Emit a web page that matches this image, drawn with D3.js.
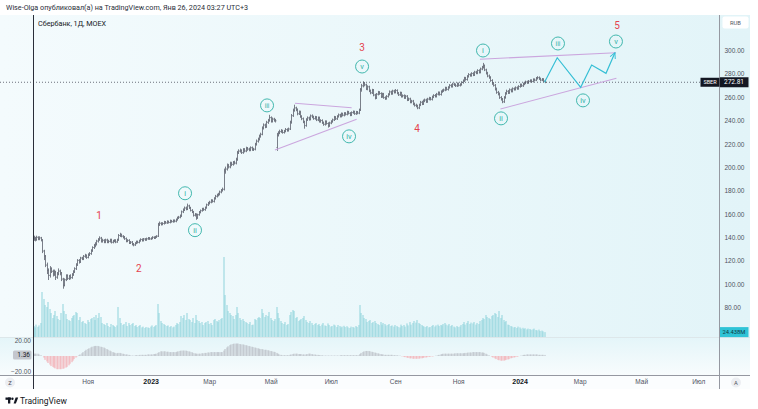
<!DOCTYPE html>
<html lang="ru">
<head>
<meta charset="UTF-8">
<title>Сбербанк, 1Д, MOEX</title>
<script src="https://d3js.org/d3.v7.min.js"></script>
<style>
  body { margin: 0; background: #fff; }
  svg { display: block; font-family: Roboto, "Noto Sans", sans-serif; }
</style>
</head>
<body>
<svg width="758" height="409"></svg>
<script>
// ---- data ----
const startDate = "2022-09-09";
const holidays = ["2022-11-04","2023-01-02","2023-02-23","2023-03-08","2023-05-01","2023-05-08","2023-05-09",
  "2023-06-12","2023-11-06","2024-01-01","2024-01-02","2024-02-23","2024-03-08","2024-05-01","2024-05-09",
  "2024-05-10","2024-06-12"];
const monthNames = ["Янв","Фев","Мар","Апр","Май","Июн","Июл","Авг","Сен","Окт","Ноя","Дек"];

const firstOpen = 139.0;
const gapOpens = {166: 217}; // dividend gap bar

const closes = [
  139.5,138.2,140.1,138.8,139.6,137.9,128.4,124.0,116.3,111.8,
  107.5,113.2,111.0,108.6,110.4,105.9,108.7,111.2,109.5,104.3,
  99.0,103.8,107.2,104.9,106.8,105.6,108.1,110.5,113.2,116.4,
  120.3,119.1,122.4,121.7,123.8,124.2,122.9,125.3,126.1,
  128.7,131.4,133.0,134.2,136.8,138.1,139.4,136.9,137.5,136.2,
  137.8,135.9,136.6,137.9,135.8,136.9,137.3,136.1,137.8,
  141.6,142.3,141.0,140.2,138.9,136.8,137.4,135.2,135.9,134.1,
  133.6,135.0,136.3,135.7,137.1,138.2,137.3,138.6,137.9,138.8,
  139.4,138.7,139.2,140.1,139.5,140.4,141.0,150.8,152.1,151.3,
  151.9,153.1,152.4,153.6,152.8,154.1,153.5,154.4,153.9,
  155.2,156.8,157.3,158.4,161.9,163.5,165.2,164.1,167.0,165.3,
  163.1,161.8,158.9,159.6,156.8,159.4,161.5,162.9,164.3,163.8,
  165.4,167.9,169.2,170.1,171.6,170.8,173.4,175.2,176.1,
  177.0,178.9,180.3,181.2,196.8,198.5,201.2,200.4,203.1,202.5,
  204.2,203.6,206.8,212.5,213.9,214.3,212.6,215.1,214.0,216.2,
  215.6,214.9,216.8,215.2,215.5,219.8,222.4,224.1,226.7,
  228.3,233.6,236.2,234.8,238.5,240.1,242.6,239.4,241.3,240.2,
  239.8,227.5,229.4,230.6,231.2,229.8,230.9,232.4,231.5,232.8,
  238.6,244.2,248.7,250.9,249.3,245.8,247.2,243.4,241.6,
  238.9,235.7,240.8,242.3,241.1,244.0,243.2,241.7,242.9,240.6,
  242.4,239.3,240.1,238.2,236.8,239.1,237.5,235.6,237.9,239.2,
  240.6,242.8,241.5,243.6,244.9,243.7,245.8,244.6,246.1,
  245.4,247.3,246.2,244.9,246.8,247.5,245.9,247.2,246.4,249.1,
  266.5,269.8,271.9,270.6,267.2,268.9,265.4,263.8,266.1,261.9,
  259.4,262.6,264.1,263.2,260.5,262.8,259.7,258.9,260.7,
  262.4,264.6,263.1,265.3,264.2,265.8,263.5,262.1,263.7,260.8,
  261.3,259.6,260.9,257.8,258.6,255.9,256.7,254.2,253.1,252.6,
  250.9,253.4,255.7,254.3,256.9,257.6,256.2,258.4,259.1,
  258.2,260.3,261.5,260.8,262.6,263.9,262.4,264.8,265.6,266.2,
  267.9,266.7,268.4,270.1,269.3,271.2,270.6,269.8,271.5,270.2,
  270.9,272.6,274.1,276.3,275.2,277.8,279.4,278.6,280.3,
  279.1,281.5,280.7,282.9,281.3,284.2,285.6,287.1,283.4,280.6,
  278.2,276.9,274.3,271.8,270.2,266.9,264.1,262.8,259.7,258.3,
  256.1,259.8,263.2,265.1,263.9,266.4,265.2,267.3,266.8,
  268.1,267.4,269.2,270.6,269.8,271.3,272.2,273.1,272.4,273.6,
  274.2,273.5,275.1,274.6,276.2,276.8,275.9,274.7,275.3,273.9,272.81
];
const highs = [
  141,140,141,140.5,140.5,140,138,129,124.5,118,
  113,115,114,112,112,111,110,113,112,110,
  105,104.5,108,108,107.5,108,109,111.5,114,117.5,
  121,121,123,123,124.5,125.5,125,126,127,
  129.5,132,134,135.5,137.5,139,140.5,140,138.5,138,
  138.5,138.5,137.5,138.5,138.5,137.5,138,138,138.5,
  142.5,143.5,142.8,141.5,140.8,139.5,138,138,136.5,136.5,
  134.8,135.5,136.8,136.8,137.6,138.8,138.7,139.1,139,139.4,
  139.9,139.8,139.7,140.6,140.5,140.9,141.5,152,153.2,152.6,
  152.6,153.8,153.6,154.2,154,154.8,154.6,155,155,
  155.8,157.4,158,159.2,162.6,164.4,166,166,168.5,167.6,
  165.8,163.8,162.3,160.5,160.2,159.9,162.2,163.5,164.9,165,
  166,168.5,170,170.9,172.3,172.2,174,176,177,
  177.8,179.6,181,182.2,198.5,200.2,202.8,202.5,204.4,204.3,
  205,205.2,207.8,213.6,215,215.6,215,216,216,217.2,
  217,216.4,217.5,217.4,216.3,220.6,223.4,225,227.6,
  229.2,234.6,237.2,237,239.4,241,244.5,243.2,242.2,242,
  241,229,230.5,231.8,232.3,231.8,231.6,233.2,233,233.6,
  239.5,245.2,249.8,253.2,251.5,250,248.2,248,244.2,
  242.2,239.5,241.6,243.2,243,244.8,244.9,243.8,243.6,243.4,
  243.1,243,240.8,240.7,238.8,239.8,239.7,238.1,238.6,239.9,
  241.3,243.6,243.4,244.2,245.6,245.4,246.5,246.3,246.8,
  246.8,248,247.9,246.8,247.4,248.2,248,247.9,247.8,249.8,
  267.5,271,273.2,272.6,271.2,269.8,269.4,266.2,266.8,266.6,
  262.5,263.2,265,264.8,263.8,263.4,263.3,260.4,261.4,
  263,265.4,265.2,266,265.9,266.6,266.4,264,264.4,264.2,
  262,262,261.6,261.4,259.3,259.2,257.4,257.3,255,254,
  253.2,254,256.4,256.5,257.6,258.4,258.3,259.1,259.9,
  259.8,261,262.2,262.3,263.3,264.6,264.5,265.5,266.4,267,
  268.6,268.5,269,270.8,270.8,271.9,271.9,271.3,272.2,272.1,
  271.6,273.3,274.8,277.1,277,278.5,280.2,280,281,
  281,282.2,282.2,283.6,283.5,284.9,286.4,289,287.6,284,
  281.3,279,277.6,275,272.6,270.9,267.8,265,263.6,260.5,
  258.9,260.5,264,266,265.7,267.1,267,268,268,
  268.8,268.8,269.9,271.3,271.2,272,272.9,273.8,273.7,274.3,
  274.9,274.9,275.8,275.7,276.9,277.6,277.4,276.4,276,275.9,274.5
];
const lows = [
  137.5,137,137.5,138,138,137,127,121,115,109,
  104,106,110,107,107.5,104,105,108,108,103,
  96.5,98.5,103,104,104,104.5,105,107.5,110,112.5,
  116,118,118.5,121,121,123,122,122.5,124.5,
  125.5,128,130.5,132,133.5,136,137.5,136,136,135.5,
  135.5,135.5,135.5,136,135.2,135.3,136.3,135.5,135.8,
  137.5,140.8,140.5,139.5,138.3,136.2,136.3,134.8,134.8,133.6,
  132.8,133.2,134.6,135.2,135.3,136.8,136.9,137,137.5,137.6,
  138.4,138.3,138.3,138.8,139.1,139.2,140,140.8,150.3,150.6,
  150.8,151.4,152,152,152.3,152.4,153,153,153.3,
  153.4,154.8,156.2,156.8,158,161.2,163,163.6,163.8,164.8,
  162.6,161.2,158.2,158.3,155.5,156.3,159,161,162.5,163.1,
  163.2,165,167.3,168.6,169.6,170.2,170.3,172.8,174.6,
  175.5,176.4,178.2,179.6,180.6,195,197.6,199.4,199.6,201.4,
  201.8,202.8,202.9,206,211.8,213,211.8,212,213.2,213.4,
  214.6,214.1,214.2,214.6,214.4,214.9,219,221.6,223.4,
  225.8,227.8,232.8,233.9,234.2,237.6,239.5,238.7,238.8,239.5,
  238.8,214.5,226.8,228.8,229.9,229.2,229.3,230.4,230.9,231,
  232.4,237.8,243.6,248,248.5,245,245.2,242.8,240.8,
  238.2,233.5,235.2,240.2,240.4,240.6,242.5,241.1,241.2,240,
  240,238.7,238.6,237.6,236,236.1,236.9,234.4,235,237.3,
  238.6,240.1,240.9,241,243,243.1,243.2,244,244,
  244.8,244.9,245.6,244.2,244.3,246.2,245.3,245.3,245.8,245.9,
  248.6,265.2,268.8,269.8,266.5,266.4,264.8,262.9,263.2,261.2,
  258.6,258.9,262,262.5,259.8,259.9,259.1,258.1,258.3,
  260.1,261.9,262.5,262.6,263.6,263.7,262.9,261.5,261.6,260.1,
  260.2,259,259,257.1,257.2,255.2,255.2,253.6,252.4,251.8,
  250.2,250.3,252.8,253.7,253.8,256.2,255.6,255.7,257.8,
  257.6,257.6,259.7,260.2,260.2,262,261.8,261.8,264.2,265,
  265.6,266.1,266.1,267.8,268.7,268.7,270,269.2,269.2,269.6,
  269.6,270.3,272,273.5,274.6,274.6,277.2,278,278,
  278.5,278.6,280.1,280.1,280.7,280.8,283.6,285,282.8,279.9,
  277.5,276.2,273.6,271,269.5,266.2,263.4,262,259,257.5,
  255.3,255.6,259.2,262.6,263.2,263.3,264.6,264.6,266.1,
  266.2,266.8,266.9,268.6,269.2,269.3,270.7,271.6,271.8,271.9,
  273,273,273,274,274.2,275.6,275.3,274.1,274.2,273.4,272.4
];
// volume, millions of shares
const volumes = [
  55,48,62,51,58,70,225,190,160,150,
  175,140,120,95,110,130,105,90,85,120,
  165,130,115,90,85,80,95,105,110,125,
  120,85,100,75,80,70,65,85,75,
  90,95,100,85,110,95,120,100,70,65,
  60,70,55,50,65,60,55,50,58,
  150,95,70,60,65,75,55,70,60,65,
  70,55,60,50,55,60,48,52,45,50,
  48,45,52,58,50,55,60,165,120,80,
  70,65,60,55,58,50,55,48,52,
  60,70,65,75,105,95,110,85,120,90,
  85,75,95,70,110,85,80,70,75,60,
  70,75,80,65,70,60,85,90,80,
  75,85,90,95,400,210,160,130,120,110,
  105,90,110,150,120,95,85,90,80,75,
  70,65,75,60,62,90,85,95,100,
  95,140,120,100,110,105,125,95,85,80,
  90,150,120,95,80,70,65,75,60,65,
  110,125,135,130,95,100,80,85,90,
  95,105,85,75,70,80,70,60,65,70,
  60,65,55,62,70,58,55,68,60,52,
  55,62,58,50,60,55,48,52,56,
  50,54,48,45,52,50,47,55,50,60,
  160,120,110,95,90,75,80,85,70,75,
  80,70,65,60,75,62,70,65,58,
  60,65,55,58,52,60,55,50,48,62,
  55,60,52,68,58,75,62,70,80,72,
  85,70,65,60,55,52,50,55,48,
  50,55,60,52,58,62,55,60,58,65,
  70,62,58,65,55,60,52,48,55,50,
  52,60,65,75,62,70,80,65,72,
  68,75,62,70,65,80,85,95,90,110,
  100,95,90,105,110,120,115,100,130,95,
  110,85,75,80,62,60,55,52,48,
  50,45,52,48,42,46,40,44,38,42,
  40,36,38,42,35,33,37,30,32,28,24.438
];
// lower pane oscillator histogram
const osc = [
  3,3,3,3,2,1,0,
  -2,-5,-7,-9,-11,-13,-14,-15,-16,-17,-17,-17,-17,-16.5,-16,-15,-14,-12,-10,-8,-6,-4,-2,-0.5,
  1,2,3.5,5,6.5,8,9,10,11,12,12.5,13,13,13,12.5,12,11.5,11,10,9,8,7,6,5,4.5,4,3.5,4,4,3.5,3,2.5,2,2,
  1.5,1,0.5,0.5,0.5,1,1,1,1.5,1.5,1.5,1.5,1.5,2,2,2,
  2,2.5,2.5,3,4,5,6,6,6,6,5.5,5.5,5,5,5,5,5,5.5,6,6.5,7,7,7,7,6.5,
  6,5.5,5,4,3.5,3,3,3,3,3.5,3.5,4,4,4.5,4.5,5,5,5,5,5,5,5,5,5,
  7,9,11,12.5,14,15,15.5,16,16,16,16,15.5,15,15,14.5,14,13.5,13,12.5,12,11.5,11,10.5,10,9.5,9,9,8.5,8,8,
  7.5,7,6.5,6,5.5,5,4,3,2,1.5,1,1,1,1,1,1.5,2,2.5,3,3,3,2.5,2.5,
  2.5,2,2,2,2.5,3,3,2.5,2,2,1.5,1.5,1,1,1,0.5,0.5,0.5,0.5,0.5,0.5,0.5,0.5,
  0.5,0.5,0.5,0.5,1,1,1,1,1,1,1,1,1,
  1,1,1,1,2.5,4,5,6,6.5,6.5,6.5,6,5.5,5,4.5,4,3.5,3,2.5,
  2,2,1.5,1.5,1.5,1.5,1.5,1.5,1,1,1,0.5,0.5,
  0,-0.5,-1,-1.5,-2,-2.5,-3,-3,-3.5,-3.5,-3.5,-3.5,-3.5,-3,-3,-2.5,-2,-2,-1.5,-1,-1,-0.5,-0.5,0,0.5,1,
  1.5,2,2.5,3,3,3,3,3,3,3,3,3.5,3.5,3.5,3.5,3.5,3.5,3.5,
  4,4,4.5,4.5,4.5,5,5,5,5,5,5,4.5,4.5,4,3,2,1,0,
  -1,-2,-3,-4,-5,-5.5,-6,-6,-6,-5.5,-5,-4.5,-4,-3,-2.5,-2,-1.5,-1,-0.5,0,
  0.5,1,1.5,1.5,2,2,2,2,2,2,2,2,1.5,1.5,1.5,1.5,1.36
];

const priceTicks = [80,100,120,140,160,180,200,220,240,260,280,300];
const oscTicks = [20, -20];

// wave marks: i = bar index (future bars allowed), p = price
const waveNumbers = [
  {t: "1", i: 44.7, p: 159.0}, {t: "2", i: 72.0, p: 113.7}, {t: "3", i: 224.4, p: 302.6},
  {t: "4", i: 261.9, p: 233.3}, {t: "5", i: 398.5, p: 321.4}
];
const waveCircles = [
  {t: "i", i: 103.5, p: 177.8}, {t: "ii", i: 110.3, p: 146.2}, {t: "iii", i: 159.5, p: 253.0},
  {t: "iv", i: 215.5, p: 226.5}, {t: "v", i: 224.4, p: 286.3},
  {t: "i", i: 307.0, p: 300.0}, {t: "ii", i: 319.3, p: 241.9}, {t: "iii", i: 358.2, p: 306.0},
  {t: "iv", i: 375.3, p: 257.3}, {t: "v", i: 397.8, p: 307.7}
];
const trendLines = [
  [[164.9, 214.8], [220.7, 241.1]],
  [[178.6, 254.8], [217.3, 251.0]],
  [[304.9, 292.5], [397.8, 298.1]],
  [[318.9, 249.9], [398.1, 276.2]]
];
const projection = [[349, 272.81], [357.7, 293.8], [373.7, 268.5], [381.2, 287.6], [391.0, 280.5], [397.1, 298.1]];

if (highs.length !== closes.length || lows.length !== closes.length ||
    volumes.length !== closes.length || osc.length !== closes.length) {
  throw new Error("length mismatch " + [closes.length, highs.length, lows.length, volumes.length, osc.length]);
}

// ---- trading calendar (weekdays without exchange holidays) ----
const days = [];
{
  const d = new Date(startDate + "T00:00:00Z");
  const end = Date.UTC(2024, 7, 31);
  while (d.getTime() <= end) {
    const wd = d.getUTCDay();
    const iso = d.toISOString().slice(0, 10);
    if (wd !== 0 && wd !== 6 && !holidays.includes(iso)) days.push(new Date(d));
    d.setUTCDate(d.getUTCDate() + 1);
  }
}

// ---- layout ----
const paneRight = 719.5;
const mainTop = 15, mainBottom = 337, oscBottom = 375.5, axisBottom = 389;
const N = closes.length;

const x = d3.scaleLinear().domain([0, N - 1]).range([33.5, 544.5]);
const y = d3.scaleLinear().domain([80, 300]).range([307.5, 50.5]);
const yVol = d3.scaleLinear().domain([0, 400]).range([mainBottom, 257]);
const yOsc = d3.scaleLinear().domain([-20, 20]).range([371.5, 340.5]);

const svg = d3.select("svg");
const defs = svg.append("defs");

const gMain = defs.append("linearGradient").attr("id", "bgMain").attr("x1", 0).attr("x2", 1).attr("y1", 0).attr("y2", 0);
gMain.append("stop").attr("offset", "0%").attr("stop-color", "#f4fbfd");
gMain.append("stop").attr("offset", "100%").attr("stop-color", "#e2f4f8");
const gOsc = defs.append("linearGradient").attr("id", "bgOsc").attr("x1", 0).attr("x2", 0).attr("y1", 0).attr("y2", 1);
gOsc.append("stop").attr("offset", "0%").attr("stop-color", "#e4f5f9");
gOsc.append("stop").attr("offset", "100%").attr("stop-color", "#f8fcfd");

defs.append("clipPath").attr("id", "clipMain")
  .append("rect").attr("x", 0).attr("y", mainTop).attr("width", paneRight).attr("height", mainBottom - mainTop);
defs.append("clipPath").attr("id", "clipOsc")
  .append("rect").attr("x", 0).attr("y", mainBottom).attr("width", paneRight).attr("height", oscBottom - mainBottom);

defs.append("marker").attr("id", "arrow").attr("viewBox", "0 0 10 10")
  .attr("refX", 9).attr("refY", 5).attr("markerWidth", 7).attr("markerHeight", 7)
  .attr("orient", "auto-start-reverse").attr("markerUnits", "userSpaceOnUse")
  .append("path").attr("d", "M1,1 L9,5 L1,9").attr("fill", "none")
  .attr("stroke", "#36bfd5").attr("stroke-width", 1.4);

// backgrounds
svg.append("rect").attr("x", 0).attr("y", mainTop).attr("width", 750).attr("height", mainBottom - mainTop).attr("fill", "url(#bgMain)");
svg.append("rect").attr("x", 0).attr("y", mainBottom).attr("width", 750).attr("height", oscBottom - mainBottom).attr("fill", "url(#bgOsc)");
svg.append("rect").attr("x", 0).attr("y", oscBottom).attr("width", 750).attr("height", axisBottom - oscBottom).attr("fill", "#fbfdfe");

// header
svg.append("text").attr("x", 6).attr("y", 10).attr("font-size", 7.2).attr("fill", "#2a2e39")
  .text("Wise-Olga опубликовал(а) на TradingView.com, Янв 26, 2024 03:27 UTC+3");

// ---- volume ----
const main = svg.append("g").attr("clip-path", "url(#clipMain)");
main.append("g").selectAll("rect").data(volumes).join("rect")
  .attr("x", (d, i) => Math.round(x(i)) - 0.5)
  .attr("width", 1)
  .attr("y", d => yVol(d))
  .attr("height", d => mainBottom - yVol(d))
  .attr("fill", "#8fd4dc");

// ---- price bars (OHLC) ----
let barPath = "";
closes.forEach((c, i) => {
  const o = gapOpens[i] !== undefined ? gapOpens[i] : (i ? closes[i - 1] : firstOpen);
  const hi = Math.max(highs[i], o, c), lo = Math.min(lows[i], o, c);
  const xi = Math.round(x(i)) + 0.5;
  barPath += `M${xi},${(y(hi) - 0.5).toFixed(1)}V${(y(lo) + 0.5).toFixed(1)}`;
  barPath += `M${xi - 1},${y(o).toFixed(1)}H${xi}`;
  barPath += `M${xi},${y(c).toFixed(1)}H${xi + 1}`;
});
main.append("path").attr("d", barPath).attr("fill", "none").attr("stroke", "#6c707c").attr("stroke-width", 0.9);

// last price dotted line
const lastPrice = closes[N - 1];
main.append("line").attr("x1", 0).attr("x2", 700).attr("y1", y(lastPrice)).attr("y2", y(lastPrice))
  .attr("stroke", "#4a4e5a").attr("stroke-width", 0.8).attr("stroke-dasharray", "1,2");

// trend lines
main.append("g").selectAll("line").data(trendLines).join("line")
  .attr("x1", d => x(d[0][0])).attr("y1", d => y(d[0][1]))
  .attr("x2", d => x(d[1][0])).attr("y2", d => y(d[1][1]))
  .attr("stroke", "#cba6de").attr("stroke-width", 1.1);

// projected path
main.append("path")
  .attr("d", d3.line().x(d => x(d[0])).y(d => y(d[1]))(projection))
  .attr("fill", "none").attr("stroke", "#36bfd5").attr("stroke-width", 1.2)
  .attr("marker-end", "url(#arrow)");

// wave labels
main.append("g").selectAll("text").data(waveNumbers).join("text")
  .attr("x", d => x(d.i)).attr("y", d => y(d.p))
  .attr("text-anchor", "middle").attr("dominant-baseline", "central")
  .attr("font-size", 10).attr("fill", "#e5434f").text(d => d.t);

const circ = main.append("g").selectAll("g").data(waveCircles).join("g")
  .attr("transform", d => `translate(${x(d.i)},${y(d.p)})`);
circ.append("circle").attr("r", 6.5).attr("fill", "none").attr("stroke", "#2fb0a5").attr("stroke-width", 0.9);
circ.append("text").attr("text-anchor", "middle").attr("dominant-baseline", "central")
  .attr("y", 0.3).attr("font-size", d => d.t.length > 2 ? 6.5 : 7.5).attr("fill", "#2fb0a5").text(d => d.t);

// legend
svg.append("text").attr("x", 38).attr("y", 26).attr("font-size", 7.2).attr("fill", "#131722")
  .text("Сбербанк, 1Д, MOEX");

// ---- oscillator pane ----
const oscG = svg.append("g").attr("clip-path", "url(#clipOsc)");
oscG.selectAll("rect").data(osc).join("rect")
  .attr("x", (d, i) => Math.round(x(i)) - 0.5)
  .attr("width", 1)
  .attr("y", d => Math.min(yOsc(d), yOsc(0)))
  .attr("height", d => Math.abs(yOsc(d) - yOsc(0)))
  .attr("fill", d => d < 0 ? "#f3a9af" : "#b7bbc3");

svg.append("line").attr("x1", 0).attr("x2", 750).attr("y1", mainBottom + 0.5).attr("y2", mainBottom + 0.5)
  .attr("stroke", "#dde7ea").attr("stroke-width", 1);

const oscAxis = svg.append("g").attr("transform", "translate(31,0)")
  .call(d3.axisLeft(yOsc).tickValues(oscTicks).tickFormat(d3.format(".2f")).tickSize(0).tickPadding(0));
oscAxis.select(".domain").remove();
oscAxis.selectAll("text").attr("font-size", 6.5).attr("fill", "#50535e").attr("font-family", null);

const lastOsc = osc[N - 1];
svg.append("rect").attr("x", 13).attr("y", yOsc(lastOsc) - 4.5).attr("width", 18.5).attr("height", 9).attr("rx", 1.5)
  .attr("fill", "#c4c7ce");
svg.append("text").attr("x", 30).attr("y", yOsc(lastOsc)).attr("text-anchor", "end").attr("dominant-baseline", "central")
  .attr("font-size", 6.5).attr("fill", "#131722").text(d3.format(".2f")(lastOsc));

// ---- time axis ----
const monthTicks = [];
days.forEach((d, i) => {
  if (i > 0 && d.getUTCMonth() !== days[i - 1].getUTCMonth() && d.getUTCMonth() % 2 === 0) monthTicks.push(i);
});
const xAxis = svg.append("g").attr("transform", `translate(0,${oscBottom})`)
  .call(d3.axisBottom(x).tickValues(monthTicks.filter(i => x(i) > 40 && x(i) < 712)).tickSize(0).tickPadding(4)
    .tickFormat(i => days[i].getUTCMonth() === 0 ? String(days[i].getUTCFullYear()) : monthNames[days[i].getUTCMonth()]));
xAxis.select(".domain").remove();
xAxis.selectAll("text").attr("font-family", null)
  .attr("font-size", d => days[d].getUTCMonth() === 0 ? 7 : 6.5)
  .attr("font-weight", d => days[d].getUTCMonth() === 0 ? "bold" : "normal")
  .attr("fill", d => days[d].getUTCMonth() === 0 ? "#131722" : "#50535e");

svg.append("line").attr("x1", 0).attr("x2", 750).attr("y1", oscBottom).attr("y2", oscBottom)
  .attr("stroke", "#9598a1").attr("stroke-width", 1);

// vertical marker line at the start of the data
svg.append("line").attr("x1", 33.5).attr("x2", 33.5).attr("y1", mainTop).attr("y2", axisBottom)
  .attr("stroke", "#2a2e39").attr("stroke-width", 1);

// ---- price axis ----
svg.append("line").attr("x1", paneRight).attr("x2", paneRight).attr("y1", mainTop).attr("y2", axisBottom)
  .attr("stroke", "#9598a1").attr("stroke-width", 1);
const yAxis = svg.append("g").attr("transform", `translate(${paneRight},0)`)
  .call(d3.axisRight(y).tickValues(priceTicks).tickFormat(d3.format(".2f")).tickSize(0).tickPadding(5));
yAxis.select(".domain").remove();
yAxis.selectAll("text").attr("font-size", 6.5).attr("fill", "#50535e").attr("font-family", null);

svg.append("rect").attr("x", 722.5).attr("y", 16.5).attr("width", 26).attr("height", 12).attr("rx", 2).attr("fill", "#fff");
svg.append("text").attr("x", 735.5).attr("y", 22.8).attr("text-anchor", "middle").attr("dominant-baseline", "central")
  .attr("font-size", 5.8).attr("fill", "#50535e").text("RUB");

// last price labels
const yl = y(lastPrice);
svg.append("rect").attr("x", 700.5).attr("y", yl - 4.5).attr("width", 19).attr("height", 9).attr("fill", "#131722");
svg.append("text").attr("x", 710).attr("y", yl).attr("text-anchor", "middle").attr("dominant-baseline", "central")
  .attr("font-size", 5.5).attr("fill", "#fff").text("SBER");
svg.append("rect").attr("x", 720).attr("y", yl - 5).attr("width", 28.5).attr("height", 10).attr("fill", "#131722");
svg.append("text").attr("x", 734).attr("y", yl).attr("text-anchor", "middle").attr("dominant-baseline", "central")
  .attr("font-size", 6.5).attr("fill", "#fff").text(d3.format(".2f")(lastPrice));

// last volume label
const yv = yVol(volumes[N - 1]);
svg.append("rect").attr("x", 720).attr("y", yv - 5).attr("width", 28.5).attr("height", 10).attr("fill", "#2ec3d6");
svg.append("text").attr("x", 734).attr("y", yv).attr("text-anchor", "middle").attr("dominant-baseline", "central")
  .attr("font-size", 5.8).attr("fill", "#0f3a44").text(d3.format(".3f")(volumes[N - 1]) + "M");

// corner buttons
[[10, "Z"], [736, "A"]].forEach(([cx, t]) => {
  svg.append("circle").attr("cx", cx).attr("cy", 382.5).attr("r", 5).attr("fill", "#eceef2");
  svg.append("text").attr("x", cx).attr("y", 382.7).attr("text-anchor", "middle").attr("dominant-baseline", "central")
    .attr("font-size", 5.8).attr("fill", "#50535e").text(t);
});

// TradingView logo
const logo = svg.append("g").attr("fill", "#131722");
logo.append("rect").attr("x", 5.5).attr("y", 397.5).attr("width", 5.5).attr("height", 2.3);
logo.append("rect").attr("x", 8).attr("y", 397.5).attr("width", 2.3).attr("height", 6);
logo.append("circle").attr("cx", 12.4).attr("cy", 398.7).attr("r", 1.2);
logo.append("path").attr("d", "M13.6,403.5 L15.6,397.5 L18.2,397.5 L15.9,403.5 Z");
svg.append("text").attr("x", 20).attr("y", 403.6).attr("font-size", 8.5).attr("fill", "#131722").text("TradingView");
</script>
</body>
</html>
